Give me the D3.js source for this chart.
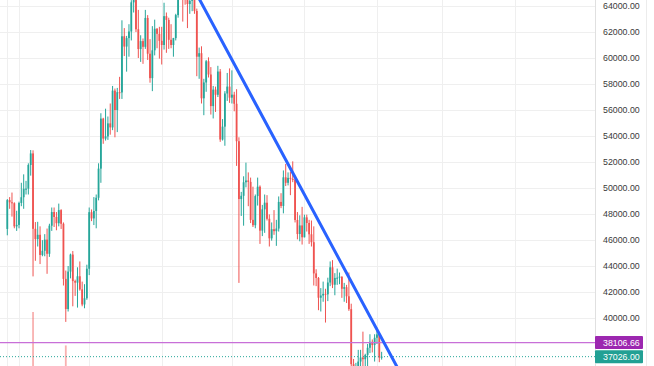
<!DOCTYPE html>
<html><head><meta charset="utf-8">
<script src="https://cdn.jsdelivr.net/npm/d3@7"></script>
<style>html,body{margin:0;padding:0;background:#fff;overflow:hidden}</style>
</head><body><svg id="chart" width="654" height="366"></svg>
<script>
// ---- DATA (daily candles, first candle date below) ----
const firstDay = "2021-08-27";
const openP = [
  46850, 49070, 48900, 48830, 47050,
  47160, 48850, 49290, 49940, 49950, 51770, 52660, 46860, 46070, 46400, 44850, 45170, 46030, 44940, 47100, 48150, 47770, 47290, 48300, 47250, 43010, 40690, 43570, 44880, 42840, 42720, 43210, 42200, 41040, 41520,
  43790, 48140, 47660, 48230, 49250, 51490, 55340, 53800, 53970, 54970, 54660, 57490, 56000, 57370, 57350, 61670, 60880, 61530, 62040, 64280, 66000, 62210, 60690, 61300, 60860, 63080, 60330, 58450, 60590, 62250, 61860,
  61320, 61000, 63220, 62930, 61400, 61000, 61530, 63300, 67550, 66940, 64880, 64860, 64150, 64400, 65500, 63620, 60100, 60370, 56900, 58120, 59750, 58730, 56300, 57570, 57170, 58960, 53730, 54720, 57270, 57800,
  56950, 57180, 56480, 53600, 49150, 49400, 50440, 50580, 50470, 47550, 47140, 49380, 50100, 46720, 48360, 48870, 47630, 46130, 46830, 46680, 46880, 48930, 48620, 50820, 50400, 50780, 50700, 50640, 47540, 46460, 47120,
  46210, 47740, 47310, 46440, 45830, 43430, 43080, 41560, 41730, 41860, 41820, 42730, 43900, 42560, 43080, 43100, 43180, 42250, 42370, 41670, 40680, 36450, 35070, 36280, 36650, 36960, 36830, 37160, 37710, 38170, 37920,
  38480, 38740, 36950
];
const highP = [
  49150, 49300, 49650, 48900, 48250,
  48950, 50400, 51050, 50550, 51900, 52920, 52900, 47380, 47400, 47050, 45990, 46450, 46880, 47250, 48500, 48500, 48150, 48800, 48370, 47350, 43650, 44000, 44950, 45150, 42950, 43900, 44350, 42800, 42600, 44100,
  48500, 48350, 49300, 49500, 51900, 55750, 55400, 56100, 55500, 56500, 57850, 57650, 57700, 58550, 62900, 62300, 61700, 62600, 64450, 67000, 66650, 63700, 61750, 61500, 63700, 63300, 61450, 62450, 62950, 62300, 62400,
  62400, 64250, 63500, 63100, 62600, 61550, 63400, 67800, 68500, 69000, 65600, 65450, 64950, 65550, 66400, 63800, 60800, 60900, 58400, 59850, 60050, 59300, 57850, 57800, 59400, 59150, 55300, 57450, 58850, 59200,
  59050, 57400, 57600, 53900, 49700, 50900, 51950, 51200, 50800, 50100, 49500, 50800, 50200, 48700, 49500, 49450, 47970, 47350, 48300, 47550, 49350, 49600, 51350, 51850, 51200, 51250, 52050, 50700, 48150, 47900, 48550,
  47950, 47950, 47550, 47500, 47050, 43750, 43150, 42300, 42800, 42250, 43100, 44350, 44450, 43450, 43800, 43500, 43200, 42700, 42550, 43500, 41100, 36850, 36550, 37550, 37550, 38950, 37250, 38000, 38750, 38350, 38750,
  39250, 38850, 37400
];
const lowP = [
  46360, 48400, 47800, 46900, 46700,
  46900, 48600, 48400, 49500, 49500, 50950, 43200, 44400, 45500, 44150, 44750, 44750, 43400, 44700, 46700, 47000, 46750, 47050, 46850, 42500, 39700, 40500, 43050, 40900, 41700, 40800, 42100, 40900, 40750, 41400,
  43300, 47450, 47150, 46900, 49050, 50400, 53400, 53650, 53700, 54100, 54450, 53900, 54300, 56850, 56850, 60150, 58950, 60100, 61350, 63500, 62000, 60000, 59700, 59550, 60700, 59850, 58100, 57450, 60200, 60750, 59950,
  59500, 60650, 60400, 60700, 60750, 60100, 61350, 63100, 66350, 62800, 64100, 62300, 63400, 63600, 63400, 58600, 58400, 56500, 55600, 57400, 58500, 55650, 55350, 55850, 57000, 53550, 53650, 53250, 56700, 56550,
  56500, 55900, 51700, 42700, 47850, 47100, 50050, 48600, 47300, 47000, 46900, 48650, 45700, 46300, 46550, 47500, 45500, 45950, 46400, 45550, 46650, 48450, 48050, 50150, 50200, 49450, 50450, 47350, 46050, 45900, 45650,
  46200, 46650, 45700, 45500, 42500, 42450, 40600, 40500, 41250, 39650, 41300, 42450, 42300, 41750, 42550, 42600, 41550, 41250, 41150, 40550, 35450, 34000, 34600, 32950, 35700, 36250, 35500, 36150, 37300, 37350, 36650,
  38000, 36600, 36800
];
const closeP = [
  49070, 48900, 48830, 47050, 47160,
  48850, 49290, 49940, 49950, 51770, 52660, 46860, 46070, 46400, 44850, 45170, 46030, 44940, 47100, 48150, 47770, 47290, 48300, 47250, 43010, 40690, 43570, 44880, 42840, 42720, 43210, 42200, 41040, 41520, 43790,
  48140, 47660, 48230, 49250, 51490, 55340, 53800, 53970, 54970, 54660, 57490, 56000, 57370, 57350, 61670, 60880, 61530, 62040, 64280, 66000, 62210, 60690, 61300, 60860, 63080, 60330, 58450, 60590, 62250, 61860, 61320,
  61000, 63220, 62930, 61400, 61000, 61530, 63300, 67550, 66940, 64880, 64860, 64150, 64400, 65500, 63620, 60100, 60370, 56900, 58120, 59750, 58730, 56300, 57570, 57170, 58960, 53730, 54720, 57270, 57800, 56950,
  57180, 56480, 53600, 49150, 49400, 50440, 50580, 50470, 47550, 47140, 49380, 50100, 46720, 48360, 48870, 47630, 46130, 46830, 46680, 46880, 48930, 48620, 50820, 50400, 50780, 50700, 50640, 47540, 46460, 47120, 46210,
  47740, 47310, 46440, 45830, 43430, 43080, 41560, 41730, 41860, 41820, 42730, 43900, 42560, 43080, 43100, 43180, 42250, 42370, 41670, 40680, 36450, 35070, 36280, 36650, 36960, 36830, 37160, 37710, 38170, 37920, 38480,
  38740, 36950, 37026
];
const volume = [
  30, 22, 24, 28, 30, 32, 34, 33, 20, 27,
  30, 100, 36, 28, 33, 20, 18, 30, 28, 27,
  25, 24, 20, 18, 36, 62, 35, 28, 30, 20,
  22, 24, 26, 24, 30, 35, 20, 18, 28, 32,
  36, 30, 26, 18, 20, 30, 30, 28, 25, 34,
  22, 22, 26, 30, 34, 36, 32, 22, 20, 26,
  30, 34, 32, 26, 20, 20, 24, 26, 26, 24,
  22, 14, 16, 28, 30, 34, 22, 24, 14, 14,
  24, 32, 26, 34, 28, 18, 16, 26, 26, 24,
  18, 34, 16, 22, 28, 30, 28, 24, 30, 36,
  28, 30, 24, 24, 26, 24, 18, 16, 30, 28,
  30, 24, 26, 18, 18, 22, 24, 20, 26, 18,
  12, 14, 24, 30, 28, 26, 22, 14, 16, 20,
  24, 32, 30, 30, 20, 16, 32, 22, 26, 26,
  22, 16, 14, 20, 20, 22, 28, 36, 32, 22,
  36, 28, 34, 30, 24, 14, 14, 20, 22, 24, 22
];
const priceTicks = [40000, 42000, 44000, 46000, 48000, 50000, 52000, 54000, 56000, 58000, 60000, 62000, 64000];
const gridDates = ["2021-08-27", "2021-09-01", "2021-10-01", "2021-11-01", "2021-12-01", "2022-01-01", "2022-02-01", "2022-03-01", "2022-04-01"];
const levelPrice = 38106.66;
const lastPrice = 37026.00;
const trendDates = ["2021-11-17", "2022-02-10"];
const trendPrices = [64560, 36100];

// ---- LAYOUT ----
const W = 654, H = 366, plotR = 595;
const parse = d3.utcParse("%Y-%m-%d");
const x = d3.scaleUtc().domain([parse("2021-09-01"), parse("2022-04-01")]).range([19, 515]);
const y = d3.scaleLinear().domain([40000, 64000]).range([318, 6]);
const vy = d3.scaleLinear().domain([0, 100]).range([400, 312]);
const up = "#26a69a", dn = "#ef5350";
const bw = 1.8;

const candles = closeP.map((c, i) => ({
  date: d3.utcDay.offset(parse(firstDay), i),
  o: openP[i], h: highP[i], l: lowP[i], c: c, v: volume[i]
}));

const svg = d3.select("#chart");
svg.append("rect").attr("width", W).attr("height", H).attr("fill", "#fff");
svg.append("defs").append("clipPath").attr("id", "plot")
  .append("rect").attr("x", 0).attr("y", 0).attr("width", plotR).attr("height", H);
const g = svg.append("g").attr("clip-path", "url(#plot)");

// grid
g.selectAll("line.hg").data(priceTicks).join("line")
  .attr("x1", 0).attr("x2", plotR)
  .attr("y1", d => Math.round(y(d)) + 0.5).attr("y2", d => Math.round(y(d)) + 0.5)
  .attr("stroke", "#efefef").attr("stroke-width", 1);
g.selectAll("line.vg").data(gridDates).join("line")
  .attr("x1", d => Math.round(x(parse(d))) + 0.5).attr("x2", d => Math.round(x(parse(d))) + 0.5)
  .attr("y1", 0).attr("y2", H)
  .attr("stroke", "#efefef").attr("stroke-width", 1);

// volume
g.selectAll("rect.vol").data(candles).join("rect")
  .attr("x", d => x(d.date) - bw / 2).attr("width", bw)
  .attr("y", d => vy(d.v)).attr("height", d => vy(0) - vy(d.v))
  .attr("fill", d => d.c >= d.o ? up : dn).attr("fill-opacity", 0.45);

// wicks
g.selectAll("line.wick").data(candles).join("line")
  .attr("x1", d => x(d.date)).attr("x2", d => x(d.date))
  .attr("y1", d => y(d.h)).attr("y2", d => y(d.l))
  .attr("stroke", d => d.c >= d.o ? up : dn).attr("stroke-width", 1);
// bodies
g.selectAll("rect.body").data(candles).join("rect")
  .attr("x", d => x(d.date) - bw / 2).attr("width", bw)
  .attr("y", d => y(Math.max(d.o, d.c)))
  .attr("height", d => Math.max(1, Math.abs(y(d.o) - y(d.c))))
  .attr("fill", d => d.c >= d.o ? up : dn);

// level line
g.append("line").attr("x1", 0).attr("x2", plotR)
  .attr("y1", y(levelPrice)).attr("y2", y(levelPrice))
  .attr("stroke", "#c86fd8").attr("stroke-width", 1.2);
// last price dotted
g.append("line").attr("x1", 0).attr("x2", plotR)
  .attr("y1", y(lastPrice)).attr("y2", y(lastPrice))
  .attr("stroke", up).attr("stroke-width", 1).attr("stroke-dasharray", "1,2");
// trend line
g.append("line")
  .attr("x1", x(parse(trendDates[0]))).attr("y1", y(trendPrices[0]))
  .attr("x2", x(parse(trendDates[1]))).attr("y2", y(trendPrices[1]))
  .attr("stroke", "#2962ff").attr("stroke-width", 3).attr("stroke-linecap", "round");

// price axis
svg.append("line").attr("x1", plotR + 0.5).attr("x2", plotR + 0.5).attr("y1", 0).attr("y2", H)
  .attr("stroke", "#e0e0e0");
svg.append("line").attr("x1", 646.5).attr("x2", 646.5).attr("y1", 0).attr("y2", H)
  .attr("stroke", "#ececec");
const axis = d3.axisRight(y).tickValues(priceTicks).tickFormat(d3.format(".2f")).tickSize(0).tickPadding(8);
const ag = svg.append("g").attr("transform", `translate(${plotR},0)`).call(axis);
ag.select(".domain").remove();
ag.selectAll("text").attr("fill", "#3a3a3a").style("font-family", "'Liberation Sans', Arial, sans-serif").style("font-size", "8.8px");

// price labels
function tag(price, color) {
  const yy = y(price);
  svg.append("rect").attr("x", plotR).attr("y", yy - 6.5).attr("width", 48).attr("height", 13)
    .attr("rx", 1).attr("fill", color);
  svg.append("text").attr("x", plotR + 8).attr("y", yy).attr("dy", "0.35em")
    .attr("fill", "#fff").style("font-family", "'Liberation Sans', Arial, sans-serif").style("font-size", "8.8px")
    .text(d3.format(".2f")(price));
}
tag(levelPrice, "#9c27b0");
tag(lastPrice, "#22a094");
</script>
</body></html>
